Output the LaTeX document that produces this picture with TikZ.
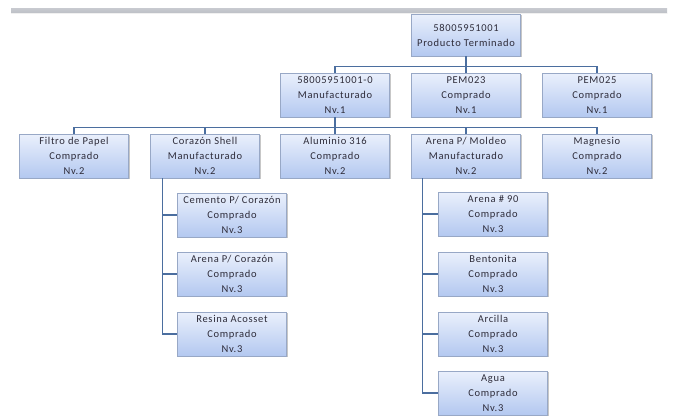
\documentclass[tikz,border=0pt]{standalone}
\usepackage{fontspec}
\setmainfont{Carlito}[LetterSpace=6.5]
\usetikzlibrary{shadows}
\definecolor{boxtop}{HTML}{EAF0FC}
\definecolor{boxbot}{HTML}{B3C8F0}
\definecolor{boxedge}{HTML}{98A8C6}
\definecolor{wire}{HTML}{4B6E9F}
\definecolor{ink}{HTML}{2E2C3A}
\definecolor{bartop}{HTML}{C8CAD0}
\definecolor{barbot}{HTML}{BCBFC6}
\tikzset{
  item/.style={draw=boxedge, line width=0.6pt, top color=boxtop, bottom color=boxbot,
    minimum width=109pt, minimum height=44pt, inner sep=0pt, align=center,
    text=ink, font=\fontsize{10.5}{15}\selectfont,
    drop shadow={shadow xshift=1.2pt, shadow yshift=-1.2pt, fill=black, opacity=0.22}},
  wire/.style={draw=wire, line width=1.4pt}
}
\begin{document}
\begin{tikzpicture}[x=1pt, y=-1pt]
\useasboundingbox (0,0) rectangle (673,416);
% header band
\shade[top color=bartop, bottom color=barbot] (11,8) rectangle (667,13.3);
\fill[white!88!gray] (11,13.3) rectangle (667,14.3);

% root
\node[item, minimum height=42pt] (root) at (466,35) {58005951001\\Producto Terminado};

% level 1
\node[item] (mfg) at (335,95) {58005951001-0\\Manufacturado\\Nv.1};
\node[item] (pem23) at (466,95) {PEM023\\Comprado\\Nv.1};
\node[item] (pem25) at (597,95) {PEM025\\Comprado\\Nv.1};

% level 2
\node[item] (filtro) at (74,156) {Filtro de Papel\\Comprado\\Nv.2};
\node[item] (shell) at (205,156) {Corazón Shell\\Manufacturado\\Nv.2};
\node[item] (alum) at (335,156) {Aluminio 316\\Comprado\\Nv.2};
\node[item] (moldeo) at (466,156) {Arena P/ Moldeo\\Manufacturado\\Nv.2};
\node[item] (magn) at (597,156) {Magnesio\\Comprado\\Nv.2};

% level 3 under Corazón Shell
\node[item] (cemento) at (232,215) {Cemento P/ Corazón\\Comprado\\Nv.3};
\node[item] (arenac) at (232,274) {Arena P/ Corazón\\Comprado\\Nv.3};
\node[item] (resina) at (232,334) {Resina Acosset\\Comprado\\Nv.3};

% level 3 under Arena P/ Moldeo
\node[item] (a90) at (493,214) {Arena \# 90\\Comprado\\Nv.3};
\node[item] (bent) at (493,274) {Bentonita\\Comprado\\Nv.3};
\node[item] (arcilla) at (493,334) {Arcilla\\Comprado\\Nv.3};
\node[item] (agua) at (493,393) {Agua\\Comprado\\Nv.3};

% connectors, root to level 1
\draw[wire] (root.south) -- ++(0,10) -| (mfg.north);
\draw[wire] (root.south) -- (pem23.north);
\draw[wire] (root.south) -- ++(0,10) -| (pem25.north);

% connectors, level 1 to level 2
\draw[wire] (mfg.south) -- ++(0,10) -| (filtro.north);
\draw[wire] (mfg.south) -- ++(0,10) -| (shell.north);
\draw[wire] (mfg.south) -- (alum.north);
\draw[wire] (mfg.south) -- ++(0,10) -| (moldeo.north);
\draw[wire] (mfg.south) -- ++(0,10) -| (magn.north);

% connectors, level 2 to level 3
\draw[wire] (shell.south west) ++(12,0) |- (cemento.west);
\draw[wire] (shell.south west) ++(12,0) |- (arenac.west);
\draw[wire] (shell.south west) ++(12,0) |- (resina.west);
\draw[wire] (moldeo.south west) ++(11,0) |- (a90.west);
\draw[wire] (moldeo.south west) ++(11,0) |- (bent.west);
\draw[wire] (moldeo.south west) ++(11,0) |- (arcilla.west);
\draw[wire] (moldeo.south west) ++(11,0) |- (agua.west);
\end{tikzpicture}
\end{document}
